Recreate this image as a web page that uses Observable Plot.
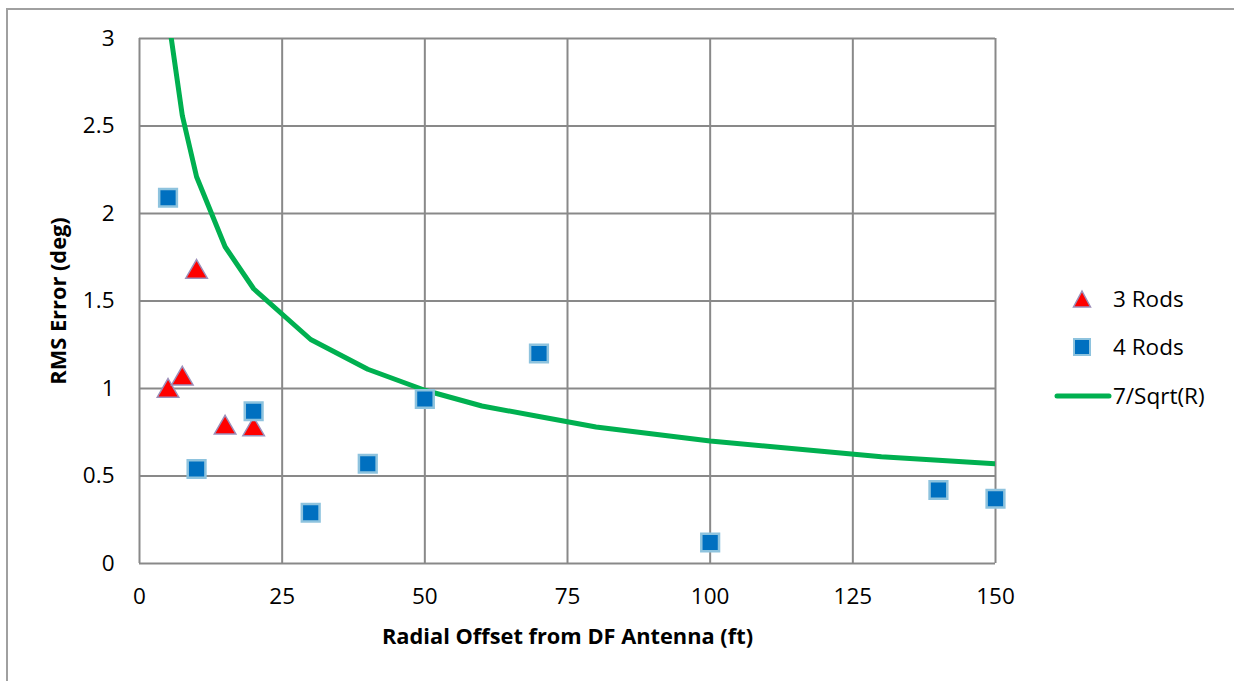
<!DOCTYPE html>
<html>
<head>
<meta charset="utf-8">
<script src="https://cdn.jsdelivr.net/npm/d3@7"></script>
<script src="https://cdn.jsdelivr.net/npm/@observablehq/plot@0.6"></script>
<style>
  html, body { margin: 0; padding: 0; background: #fff; }
  #wrap { position: relative; width: 1234px; height: 681px; overflow: hidden; font-family: "Open Sans", sans-serif; }
  #border { position: absolute; left: 6px; top: 8px; width: 1300px; height: 700px; border-left: 2px solid #a0a0a0; border-top: 2px solid #a0a0a0; pointer-events: none; }
  #legend { position: absolute; left: 0; top: 0; width: 1234px; height: 681px; pointer-events: none; }
  #legend .item { position: absolute; left: 1113px; font-size: 22.5px; color: #000; line-height: 1; transform: translateY(-50%); white-space: nowrap; }
  #legend svg { position: absolute; overflow: visible; }
</style>
</head>
<body>
<div id="wrap">
  <div id="chart"></div>
  <div id="border"></div>
  <div id="legend"></div>
</div>
<script>
// Series: 3 Rods (triangles)
const rods3X = [5, 7.5, 10, 15, 20];
const rods3Y = [1.00, 1.07, 1.68, 0.79, 0.78];
// Series: 4 Rods (squares)
const rods4X = [5, 10, 20, 30, 40, 50, 70, 100, 140, 150];
const rods4Y = [2.09, 0.54, 0.87, 0.29, 0.57, 0.94, 1.20, 0.12, 0.42, 0.37];
// Series: 7/Sqrt(R) curve
const curveX = [5, 7.5, 10, 15, 20, 30, 40, 50, 60, 70, 80, 90, 100, 110, 120, 130, 140, 150];
const curveY = [3.13, 2.56, 2.21, 1.81, 1.57, 1.28, 1.11, 0.99, 0.90, 0.84, 0.78, 0.74, 0.70, 0.67, 0.64, 0.61, 0.59, 0.57];
// Ticks
const xTicks = [0, 25, 50, 75, 100, 125, 150];
const yTicks = [0, 0.5, 1, 1.5, 2, 2.5, 3];
const yTickLabels = ["0", "0.5", "1", "1.5", "2", "2.5", "3"];
// Labels
const xLabel = "Radial Offset from DF Antenna (ft)";
const yLabel = "RMS Error (deg)";
const seriesNames = ["3 Rods", "4 Rods", "7/Sqrt(R)"];

const colors = { tri: "#ff0000", triStroke: "#9c8fba", sq: "#0070c0", sqStroke: "#8ec3de", line: "#00b050", grid: "#898989" };

const rods3 = rods3X.map((x, i) => ({ x, y: rods3Y[i] }));
const rods4 = rods4X.map((x, i) => ({ x, y: rods4Y[i] }));
const curve = curveX.map((x, i) => ({ x, y: curveY[i] }));

const chart = Plot.plot({
  width: 1234,
  height: 681,
  marginLeft: 139,
  marginRight: 239,
  marginTop: 38,
  marginBottom: 118,
  style: { fontFamily: "Open Sans, sans-serif", fontSize: "22px", color: "#000", background: "transparent" },
  x: { domain: [0, 150] },
  y: { domain: [0, 3] },
  marks: [
    Plot.gridX(xTicks, { stroke: colors.grid, strokeOpacity: 1, strokeWidth: 2 }),
    Plot.gridY(yTicks, { stroke: colors.grid, strokeOpacity: 1, strokeWidth: 2 }),
    Plot.axisX(xTicks, { tickSize: 0, tickPadding: 25, label: null, fontSize: 22.5 }),
    Plot.axisY(yTicks, { tickSize: 0, tickPadding: 25, label: null, fontSize: 22.5, tickFormat: (d) => yTickLabels[yTicks.indexOf(d)] }),
    Plot.text([xLabel], { frameAnchor: "bottom", lineAnchor: "middle", textAnchor: "middle", dy: 74, fontWeight: "bold", fontSize: 21.8, fill: "#000" }),
    Plot.text([yLabel], { frameAnchor: "left", lineAnchor: "middle", textAnchor: "middle", dx: -80, rotate: -90, fontWeight: "bold", fontSize: 21.8, fill: "#000" }),
    Plot.line(curve, { x: "x", y: "y", stroke: colors.line, strokeWidth: 5, clip: true }),
    Plot.dot(rods3, { x: "x", y: "y", symbol: "triangle", r: 8, dy: 2.5, fill: colors.tri, stroke: colors.triStroke, strokeWidth: 1.5 }),
    Plot.dot(rods4, { x: "x", y: "y", symbol: "square", r: 10, fill: colors.sq, stroke: colors.sqStroke, strokeWidth: 2.5 })
  ]
});
document.getElementById("chart").appendChild(chart);

// Legend
const legend = document.getElementById("legend");
const legendRows = [
  { name: seriesNames[0], cy: 299, kind: "tri" },
  { name: seriesNames[1], cy: 347, kind: "sq" },
  { name: seriesNames[2], cy: 396, kind: "line" }
];
const ns = "http://www.w3.org/2000/svg";
for (const row of legendRows) {
  const svg = document.createElementNS(ns, "svg");
  svg.setAttribute("width", 60);
  svg.setAttribute("height", 24);
  svg.style.left = "1052px";
  svg.style.top = (row.cy - 12) + "px";
  let el;
  if (row.kind === "tri") {
    el = document.createElementNS(ns, "path");
    el.setAttribute("d", "M30,4 L38.5,20 L21.5,20 Z");
    el.setAttribute("fill", colors.tri);
    el.setAttribute("stroke", colors.triStroke);
    el.setAttribute("stroke-width", 1.5);
  } else if (row.kind === "sq") {
    el = document.createElementNS(ns, "rect");
    el.setAttribute("x", 22); el.setAttribute("y", 4);
    el.setAttribute("width", 16); el.setAttribute("height", 16);
    el.setAttribute("fill", colors.sq);
    el.setAttribute("stroke", colors.sqStroke);
    el.setAttribute("stroke-width", 2);
  } else {
    el = document.createElementNS(ns, "line");
    el.setAttribute("x1", 5); el.setAttribute("x2", 57);
    el.setAttribute("y1", 12); el.setAttribute("y2", 12);
    el.setAttribute("stroke", colors.line);
    el.setAttribute("stroke-width", 5);
    el.setAttribute("stroke-linecap", "round");
  }
  svg.appendChild(el);
  legend.appendChild(svg);
  const t = document.createElement("div");
  t.className = "item";
  t.style.top = row.cy + "px";
  t.textContent = row.name;
  legend.appendChild(t);
}
</script>
</body>
</html>
